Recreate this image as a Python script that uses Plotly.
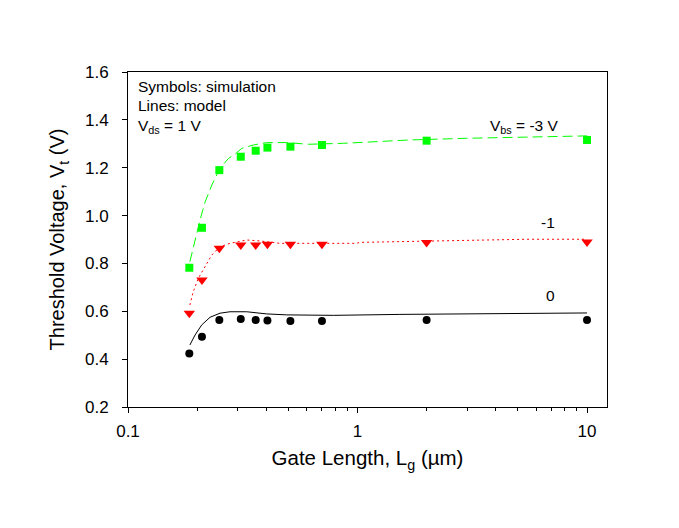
import plotly.graph_objects as go

# Simulation points (symbols)
lg_sim = [0.185, 0.21, 0.25, 0.31, 0.36, 0.405, 0.51, 0.7, 2.0, 10.0]
vt_sim_m3 = [0.782, 0.949, 1.19, 1.246, 1.271, 1.284, 1.288, 1.295, 1.313, 1.316]
vt_sim_m1 = [0.592, 0.731, 0.863, 0.877, 0.877, 0.880, 0.880, 0.880, 0.887, 0.890]
vt_sim_0 = [0.424, 0.494, 0.564, 0.568, 0.564, 0.561, 0.559, 0.559, 0.564, 0.564]

# Model curves (lines)
lg_mod_m3 = [0.186, 0.196, 0.206, 0.217, 0.232, 0.252, 0.274, 0.293, 0.313, 0.352,
             0.402, 0.492, 0.61, 0.867, 1.69, 2.99, 7.9, 10.0]
vt_mod_m3 = [0.807, 0.898, 0.982, 1.058, 1.128, 1.198, 1.239, 1.257, 1.281, 1.295,
             1.305, 1.305, 1.298, 1.302, 1.316, 1.323, 1.333, 1.333]
lg_mod_m1 = [0.186, 0.1925, 0.2025, 0.2166, 0.2317, 0.2517, 0.2782, 0.329, 0.376,
             0.46, 0.61, 0.99, 1.025, 2.37, 5.46, 10.0]
vt_mod_m1 = [0.626, 0.682, 0.738, 0.786, 0.835, 0.870, 0.884, 0.898, 0.894,
             0.884, 0.884, 0.884, 0.888, 0.895, 0.901, 0.901]
lg_mod_0 = [0.186, 0.196, 0.2095, 0.2277, 0.2517, 0.2782, 0.329, 0.402, 0.492,
            0.61, 0.785, 1.53, 5.46, 10.0]
vt_mod_0 = [0.459, 0.501, 0.543, 0.575, 0.592, 0.598, 0.598, 0.589, 0.585,
            0.585, 0.583, 0.587, 0.593, 0.593]

x_major = [0.1, 1, 10]
x_major_text = ["0.1", "1", "10"]
x_minor = [0.2, 0.3, 0.4, 0.5, 0.6, 0.7, 0.8, 0.9, 2, 3, 4, 5, 6, 7, 8, 9]
y_ticks = [0.2, 0.4, 0.6, 0.8, 1.0, 1.2, 1.4, 1.6]

FONT = "Arial, Liberation Sans, sans-serif"
GREEN = "#00FF00"
RED = "#FF0000"
BLACK = "#000000"

fig = go.Figure()
fig.add_trace(go.Scatter(x=lg_mod_m3, y=vt_mod_m3, mode="lines",
                         line=dict(color=GREEN, width=1, dash="10px,5px"), hoverinfo="skip"))
fig.add_trace(go.Scatter(x=lg_mod_m1, y=vt_mod_m1, mode="lines",
                         line=dict(color=RED, width=1, dash="2px,3px"), hoverinfo="skip"))
fig.add_trace(go.Scatter(x=lg_mod_0, y=vt_mod_0, mode="lines",
                         line=dict(color=BLACK, width=1), hoverinfo="skip"))
fig.add_trace(go.Scatter(x=lg_sim, y=vt_sim_m3, mode="markers",
                         marker=dict(symbol="square", size=8, color=GREEN)))
fig.add_trace(go.Scatter(x=lg_sim, y=vt_sim_m1, mode="markers",
                         marker=dict(symbol="triangle-down", size=10, color=RED)))
fig.add_trace(go.Scatter(x=lg_sim, y=vt_sim_0, mode="markers",
                         marker=dict(symbol="circle", size=8, color=BLACK)))

# page body has an 8px margin, so the figure is 8px smaller and margins shifted
fig.update_layout(
    width=671, height=520,
    margin=dict(l=120, r=72, t=64, b=121),
    paper_bgcolor="white", plot_bgcolor="white",
    showlegend=False,
    font=dict(family=FONT, color="black", size=17),
    xaxis=dict(
        type="log", range=[-1, 1.087],
        tickmode="array", tickvals=x_major, ticktext=x_major_text,
        ticks="outside", ticklen=5, tickwidth=1, tickcolor="black",
        ticklabelstandoff=4,
        minor=dict(tickmode="array", tickvals=x_minor, ticks="outside", ticklen=3,
                   tickwidth=1, tickcolor="black", showgrid=False),
        showline=True, linecolor="black", linewidth=1, mirror=True,
        showgrid=False, zeroline=False,
        tickfont=dict(size=17),
        title=dict(text="Gate Length, L<sub>g</sub> (µm)", font=dict(size=20.5), standoff=10),
    ),
    yaxis=dict(
        range=[0.2, 1.6],
        tickmode="array", tickvals=y_ticks, ticktext=[f"{v:.1f}" for v in y_ticks],
        ticks="outside", ticklen=5, tickwidth=1, tickcolor="black",
        ticklabelstandoff=10,
        showline=True, linecolor="black", linewidth=1, mirror=True,
        showgrid=False, zeroline=False,
        tickfont=dict(size=17),
        title=dict(text="Threshold Voltage, V<sub>t</sub> (V)", font=dict(size=20), standoff=14),
    ),
)

def px_to_paper(px, py):
    return (px - 128) / 479.0, (407 - py) / 335.0

anns = [
    ("Symbols: simulation", 136, 86, "left"),
    ("Lines: model", 136, 105, "left"),
    ("V<sub>ds</sub> = 1 V", 136, 126, "left"),
    ("V<sub>bs</sub> = -3 V", 524, 126, "center"),
    ("-1", 548, 222, "center"),
    ("0", 550, 295, "center"),
]
for text, px, py, xa in anns:
    x, y = px_to_paper(px, py)
    fig.add_annotation(text=text, x=x, y=y, xref="paper", yref="paper",
                       xanchor=xa, yanchor="middle", showarrow=False,
                       font=dict(family=FONT, size=15.5, color="black"))

fig.write_html("out.html")
